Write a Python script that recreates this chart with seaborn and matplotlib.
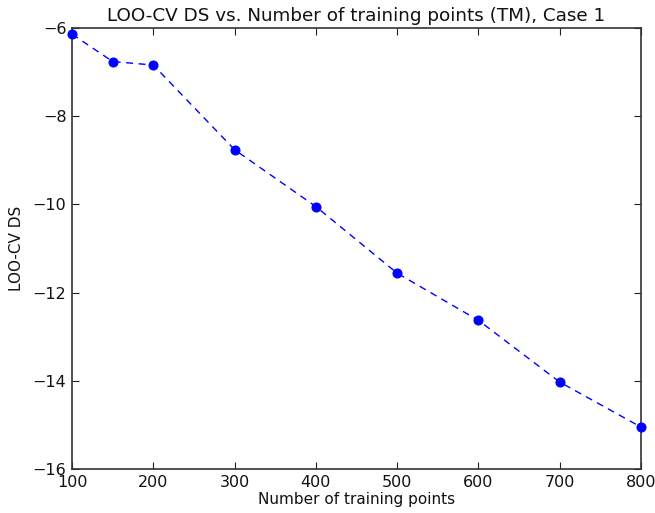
import matplotlib
matplotlib.use("Agg")
import matplotlib.pyplot as plt
import seaborn as sns
import pandas as pd

n_points = [100, 150, 200, 300, 400, 500, 600, 700, 800]
loo_ds = [-6.14, -6.76, -6.84, -8.76, -10.05, -11.56, -12.63, -14.03, -15.05]
x_ticks = [100, 200, 300, 400, 500, 600, 700, 800]
y_ticks = [-16, -14, -12, -10, -8, -6]

sns.set_style("white")
plt.rcParams['font.family'] = ['DejaVu Sans']
plt.rcParams['axes.unicode_minus'] = True
plt.rcParams['text.color'] = '#111111'
plt.rcParams['axes.labelcolor'] = '#111111'

df = pd.DataFrame({"n": n_points, "ds": loo_ds})

fig = plt.figure(figsize=(6.55, 5.13), dpi=100)
ax = fig.add_axes([0.11, 0.0858, 0.8687, 0.8596])
sns.lineplot(data=df, x="n", y="ds", ax=ax, color="#0000ff", linestyle=(0, (5, 4)),
             marker="o", markersize=6.5, markeredgecolor="#0000ff", linewidth=1.0,
             clip_on=False, zorder=3)
ax.set_xlim(100, 800)
ax.set_ylim(-16, -6)
ax.set_xticks(x_ticks)
ax.set_yticks(y_ticks)
ax.tick_params(direction="in", length=5, width=0.8, top=True, right=True,
               bottom=True, left=True, labelsize=11.5, pad=4, colors="#222222",
               labelcolor="#111111")
for s in ax.spines.values():
    s.set_color("#333333")
    s.set_linewidth(1.2)
ax.set_title("LOO-CV DS vs. Number of training points (TM), Case 1", fontsize=13.2, pad=5)
ax.set_xlabel("Number of training points", fontsize=11, labelpad=2)
ax.set_ylabel("LOO-CV DS", fontsize=11, labelpad=6)
fig.savefig("out.png", dpi=100)
